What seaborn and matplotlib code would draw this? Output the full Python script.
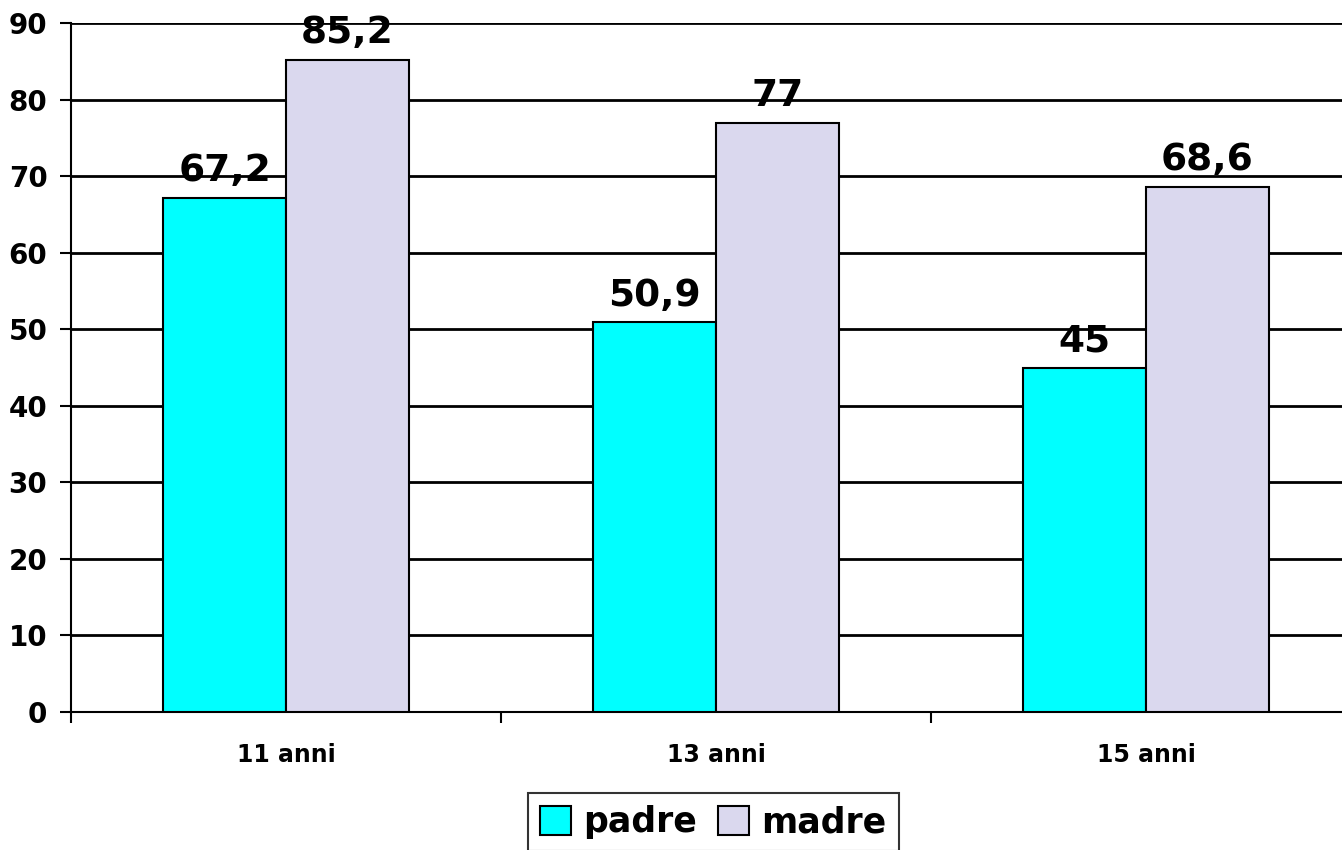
import matplotlib
matplotlib.use("Agg")
import matplotlib.pyplot as plt
import seaborn as sns
import pandas as pd
from matplotlib.ticker import FixedLocator

categories = ["11 anni", "13 anni", "15 anni"]
series_names = ["padre", "madre"]
padre = [67.2, 50.9, 45]
madre = [85.2, 77, 68.6]
y_ticks = [0, 10, 20, 30, 40, 50, 60, 70, 80, 90]

df = pd.DataFrame({
    "cat": categories * 2,
    "serie": [series_names[0]] * 3 + [series_names[1]] * 3,
    "val": padre + madre,
})

sns.set_style("white")
plt.rcParams["font.family"] = ["DejaVu Sans"]
plt.rcParams["font.weight"] = "bold"
plt.rcParams["text.color"] = "black"
plt.rcParams["xtick.color"] = "black"
plt.rcParams["ytick.color"] = "black"
plt.rcParams["xtick.labelcolor"] = "black"
plt.rcParams["ytick.labelcolor"] = "black"

fig = plt.figure(figsize=(13.42, 8.5), dpi=100)
ax = fig.add_axes([71/1342, 138/850, 1290/1342, 689/850])

palette = {"padre": "#00FFFF", "madre": "#DAD8EE"}
sns.barplot(data=df, x="cat", y="val", hue="serie", order=categories,
            hue_order=series_names, palette=palette, width=0.572,
            edgecolor="black", linewidth=1.5, saturation=1, ax=ax, zorder=3)

ax.set_xlim(-0.5, 2.5)
ax.set_ylim(0, 90)
ax.set_yticks(y_ticks)
ax.yaxis.grid(True, color="black", linewidth=2, zorder=0)
ax.set_axisbelow(True)
ax.set_xlabel("")
ax.set_ylabel("")

for c in ax.containers:
    labels = [f"{v:g}".replace(".", ",") for v in c.datavalues]
    ax.bar_label(c, labels=labels, padding=6, fontsize=27, fontweight="bold",
                 color="black")

ax.tick_params(axis="y", length=8, width=1.5, direction="out", pad=9,
               labelsize=20, left=True)
ax.tick_params(axis="x", which="major", length=0, pad=22, labelsize=17)
ax.xaxis.set_minor_locator(FixedLocator([-0.5, 0.5, 1.5]))
ax.tick_params(axis="x", which="minor", length=8, width=1.5, direction="out",
               bottom=True)
for lab in ax.get_xticklabels() + ax.get_yticklabels():
    lab.set_fontweight("bold")
    lab.set_color("black")

for s in ["top", "right"]:
    ax.spines[s].set_visible(False)
for s in ["left", "bottom"]:
    ax.spines[s].set_color("black")
    ax.spines[s].set_linewidth(1.5)

leg = ax.legend(loc="upper left", bbox_to_anchor=(528/1342, 1 - 793/850),
                bbox_transform=fig.transFigure, ncol=2, frameon=True,
                fancybox=False, edgecolor="black", handlelength=0.9,
                handleheight=0.9, handletextpad=0.35, columnspacing=0.6,
                borderpad=0.35, borderaxespad=0,
                prop={"size": 25, "weight": "bold"})
leg.get_frame().set_linewidth(1.5)
leg.get_frame().set_edgecolor("black")
for t in leg.get_texts():
    t.set_color("black")

fig.savefig("out.png", dpi=100)
